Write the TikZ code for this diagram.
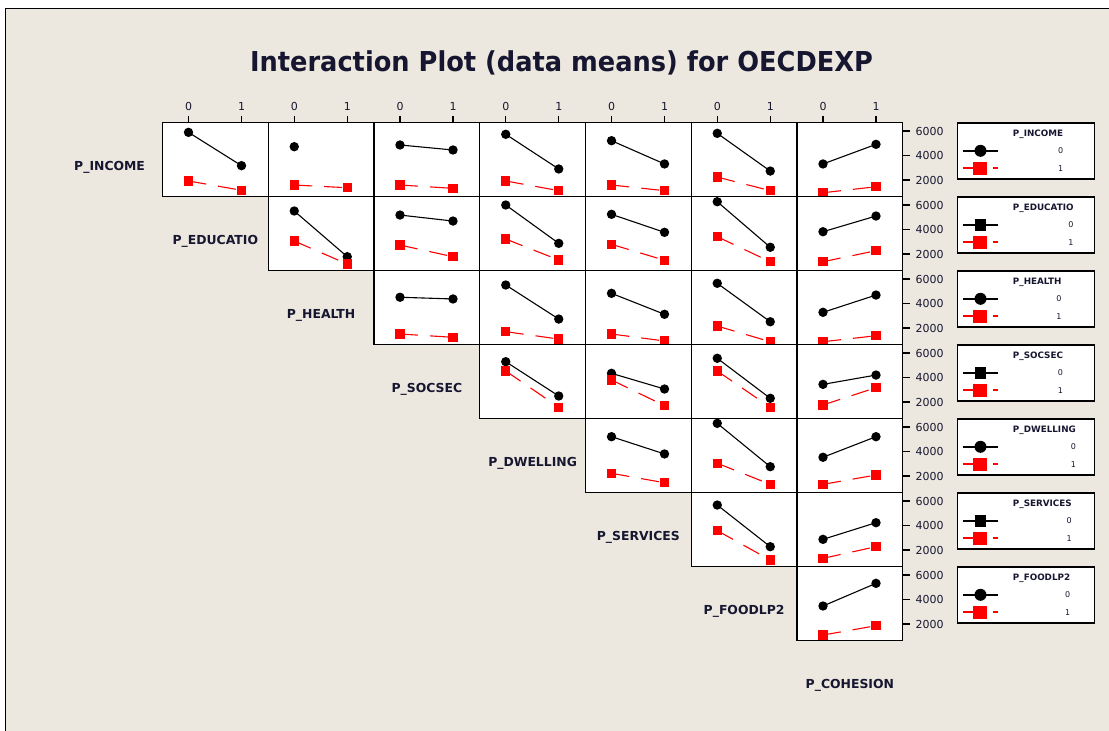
\documentclass[tikz,border=0pt]{standalone}
\usepackage{fontspec}
\usepackage{graphicx}
\setmainfont{DejaVu Sans}
\definecolor{paper}{RGB}{237,232,223}
\definecolor{ink}{RGB}{22,22,48}
\definecolor{plotred}{RGB}{255,0,0}

\tikzset{
  panelfill/.style={fill=white},
  panelframe/.style={draw=black, line width=1.4pt},
  legendframe/.style={draw=black, line width=1.4pt, fill=white},
  level0line/.style={black, line width=1.1pt},
  level1line/.style={plotred, line width=1.1pt, dash pattern=on 18pt off 12pt},
  axistick/.style={black, line width=1.1pt},
  titletext/.style={inner sep=0pt, text=ink, font=\fontsize{27.4}{30}\selectfont\bfseries, anchor=base},
  varlabel/.style={inner sep=0pt, text=ink, font=\fontsize{12.4}{14}\selectfont\bfseries, anchor=base},
  ticklabel/.style={inner sep=0pt, text=ink, font=\fontsize{11}{13}\selectfont},
  legtitle/.style={inner sep=0pt, text=ink, font=\fontsize{8.8}{10}\selectfont\bfseries, anchor=base west},
  legvalue/.style={inner sep=0pt, text=ink, font=\fontsize{8}{10}\selectfont, anchor=east},
  pics/meandot/.style={code={\fill[black] (0,0) circle (4.7pt);}},
  pics/lowsq/.style={code={\fill[plotred] (-4.65pt,-4.65pt) rectangle (4.65pt,4.65pt);}},
  pics/legdot/.style={code={\fill[black] (0,0) circle (6pt);}},
  pics/legsq/.style={code={\fill[black] (-5.8pt,-5.8pt) rectangle (5.8pt,5.8pt);}},
  pics/legredsq/.style={code={\fill[plotred] (-6.6pt,-6.6pt) rectangle (6.6pt,6.6pt);}},
}

\begin{document}
\begin{tikzpicture}[x=1pt, y=-1pt]
% page and window frame
\useasboundingbox (0,0) rectangle (1109,731);
\fill[white] (0,0) rectangle (1109,731);
\fill[paper] (5.5,8.5) rectangle (1109,731);
\draw[line width=1.6pt] (5.5,731) -- (5.5,8.5) -- (1109,8.5);

% title
\node[titletext] (title) at (561.5,71.7)
  {\resizebox{623pt}{\height}{Interaction Plot (data means) for OECDEXP}};

% white panel backgrounds
\foreach \r in {0,...,6}{
  \pgfmathtruncatemacro\cs{\r+1}
  \foreach \c in {\cs,...,7}{
    \pgfmathsetmacro\L{162.5+(\c-1)*105.75}
    \pgfmathsetmacro\T{122.5+74*\r}
    \fill[panelfill] (\L,\T) rectangle ++(105.75,74);
  }
}

% means: black = level 0 of the row factor, red = level 1
\foreach \r/\c/\bz/\bo/\rz/\ro in {
  0/1/5.89/3.17/1.92/1.16,
  0/3/4.86/4.45/1.59/1.32,
  0/4/5.73/2.90/1.92/1.13,
  0/5/5.21/3.31/1.59/1.13,
  0/6/5.81/2.73/2.24/1.13,
  0/7/3.31/4.91/0.96/1.45,
  1/2/5.51/1.78/3.06/1.18,
  1/3/5.18/4.69/2.73/1.78,
  1/4/6.00/2.87/3.22/1.51,
  1/5/5.24/3.77/2.79/1.49,
  1/6/6.27/2.55/3.41/1.37,
  1/7/3.82/5.10/1.37/2.27,
  2/3/4.51/4.37/1.51/1.24,
  2/4/5.51/2.73/1.70/1.10,
  2/5/4.83/3.12/1.51/0.94,
  2/6/5.65/2.51/2.16/0.88,
  2/7/3.28/4.69/0.88/1.37,
  3/4/5.29/2.49/4.53/1.57,
  3/5/4.34/3.06/3.80/1.70,
  3/6/5.57/2.30/4.53/1.57,
  3/7/3.44/4.20/1.76/3.17,
  4/5/5.21/3.80/2.22/1.45,
  4/6/6.30/2.76/3.04/1.32,
  4/7/3.53/5.21/1.32/2.08,
  5/6/5.67/2.27/3.58/1.18,
  5/7/2.87/4.23/1.32/2.27,
  6/7/3.47/5.32/1.10/1.86}{
  \pgfmathsetmacro\L{162.5+(\c-1)*105.75}
  \pgfmathsetmacro\T{122.5+74*\r}
  \begin{scope}
    \clip (\L,\T) rectangle ++(105.75,74);
    \coordinate (b0) at ({\L+26},{\T+8.5+(6-\bz)*12.25});
    \coordinate (b1) at ({\L+79},{\T+8.5+(6-\bo)*12.25});
    \coordinate (r0) at ({\L+26},{\T+8.5+(6-\rz)*12.25});
    \coordinate (r1) at ({\L+79},{\T+8.5+(6-\ro)*12.25});
    \draw[level0line] (b0) -- (b1);
    \pic at (b0) {meandot};
    \pic at (b1) {meandot};
    \draw[level1line] (r0) -- (r1);
    \pic at (r0) {lowsq};
    \pic at (r1) {lowsq};
  \end{scope}
}

% P_INCOME x P_EDUCATIO: only one mean in the black series
\begin{scope}
  \pgfmathsetmacro\L{162.5+105.75}
  \clip (\L,122.5) rectangle ++(105.75,74);
  \coordinate (b0) at ({\L+26},{122.5+8.5+(6-4.72)*12.25});
  \coordinate (r0) at ({\L+26},{122.5+8.5+(6-1.59)*12.25});
  \coordinate (r1) at ({\L+79},{122.5+8.5+(6-1.37)*12.25});
  \pic at (b0) {meandot};
  \draw[level1line] (r0) -- (r1);
  \pic at (r0) {lowsq};
  \pic at (r1) {lowsq};
\end{scope}

% panel borders
\foreach \r in {0,...,6}{
  \pgfmathtruncatemacro\cs{\r+1}
  \foreach \c in {\cs,...,7}{
    \pgfmathsetmacro\L{162.5+(\c-1)*105.75}
    \pgfmathsetmacro\T{122.5+74*\r}
    \draw[panelframe] (\L,\T) rectangle ++(105.75,74);
  }
}

% top axis: levels of the column factor
\foreach \c in {1,...,7}{
  \pgfmathsetmacro\L{162.5+(\c-1)*105.75}
  \draw[axistick] (\L+26,115.5) -- (\L+26,122.5);
  \draw[axistick] (\L+79,115.5) -- (\L+79,122.5);
  \node[ticklabel, anchor=base] (xa\c) at (\L+26,110.7) {0};
  \node[ticklabel, anchor=base] (xb\c) at (\L+79,110.7) {1};
}

% right axis: mean scale for each row
\foreach \r in {0,...,6}{
  \pgfmathsetmacro\T{122.5+74*\r}
  \foreach \v in {6,4,2}{
    \pgfmathsetmacro\Y{\T+8.5+(6-\v)*12.25}
    \draw[axistick] (902.75,\Y) -- (909.5,\Y);
    \node[ticklabel, anchor=west] (ya\r\v) at (915.5,\Y) {\v000};
  }
}

% factor names on the diagonal
\foreach \r/\name in {0/P\_INCOME, 1/P\_EDUCATIO, 2/P\_HEALTH, 3/P\_SOCSEC,
                      4/P\_DWELLING, 5/P\_SERVICES, 6/P\_FOODLP2, 7/P\_COHESION}{
  \node[varlabel] (var\r) at (109.6+105.75*\r, 170.8+74*\r) {\name};
}

% legends, one per row factor
\foreach \r/\name in {0/P\_INCOME, 1/P\_EDUCATIO, 2/P\_HEALTH, 3/P\_SOCSEC,
                      4/P\_DWELLING, 5/P\_SERVICES, 6/P\_FOODLP2}{
  \pgfmathsetmacro\T{122.5+74*\r}
  \draw[legendframe] (957.5,\T+0.3) rectangle (1094.3,\T+56.5);
  \node[legtitle] (lt\r) at (1012.7,\T+14) {\name};
  \coordinate (lya\r) at (0,\T+28.3);
  \coordinate (lyb\r) at (0,\T+45.6);
  \node[legvalue] (lv\r a) at (lt\r.east |- lya\r) {0};
  \node[legvalue] (lv\r b) at (lt\r.east |- lyb\r) {1};
  \coordinate (la\r) at (962.7,\T+28.3);
  \coordinate (lb\r) at (998.3,\T+28.3);
  \coordinate (lc\r) at (962.7,\T+45.6);
  \coordinate (ld\r) at (998.3,\T+45.6);
  \draw[level0line, line width=1.4pt] (la\r) -- (lb\r);
  \ifodd\r
    \pic at (980.5,\T+28.3) {legsq};
  \else
    \pic at (980.5,\T+28.3) {legdot};
  \fi
  \draw[level1line, line width=1.4pt] (lc\r) -- (ld\r);
  \pic at (980,\T+45.6) {legredsq};
}
\end{tikzpicture}
\end{document}
